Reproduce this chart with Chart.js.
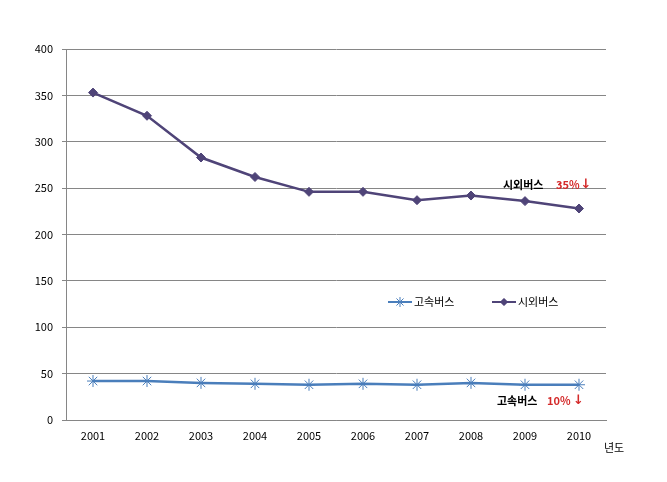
<!DOCTYPE html>
<html><head><meta charset="utf-8">
<script src="https://cdn.jsdelivr.net/npm/chart.js@4/dist/chart.umd.min.js"></script>
<style>html,body{margin:0;padding:0;background:#fff}#wrap{width:667px;height:482px}</style>
</head><body><div id="wrap"><canvas id="c" width="667" height="482"></canvas></div>
<script>
const years = ['2001','2002','2003','2004','2005','2006','2007','2008','2009','2010'];
const expressBus = [42,42,40,39,38,39,38,40,38,38];
const intercityBus = [353,328,283,262,246,246,237,242,236,228];
const yTicks = [0,50,100,150,200,250,300,350,400];
const seriesNames = ['고속버스','시외버스'];
const FONT = '"Noto Sans CJK KR", "Liberation Sans", sans-serif';

const overlay = {
  id:'overlay',
  afterDraw(chart){
    const ctx = chart.ctx;
    ctx.save();
    // legend
    const ly = 302;
    const items = [
      {x:388, name:seriesNames[0], color:'#4A7EBB', style:'star'},
      {x:492, name:seriesNames[1], color:'#4F4478', style:'rectRot'}
    ];
    ctx.font = '11px ' + FONT;
    ctx.textBaseline = 'middle';
    items.forEach(it=>{
      ctx.strokeStyle = it.color; ctx.fillStyle = it.color; ctx.lineWidth = 2;
      ctx.beginPath(); ctx.moveTo(it.x, ly); ctx.lineTo(it.x+24, ly); ctx.stroke();
      ctx.lineWidth = 1;
      Chart.helpers.drawPoint(ctx, {pointStyle:it.style, radius: it.style==='star'?5:3.5, borderWidth:1}, it.x+12, ly);
      if (it.style==='rectRot'){ ctx.fill(); }
      ctx.fillStyle = '#000';
      ctx.textAlign = 'left';
      ctx.fillText(it.name, it.x+26, ly);
    });
    // annotations
    const arrowFont = 'bold 13px "DejaVu Sans", sans-serif';
    const txtFont = 'bold 11px ' + FONT;
    function note(label, pct, x, pctX, arrowX, y){
      ctx.font = txtFont;
      ctx.fillStyle = '#000';
      ctx.fillText(label, x, y);
      ctx.fillStyle = '#D42A2A';
      ctx.fillText(pct, pctX, y);
      const end = pctX + ctx.measureText(pct).width + 1;
      ctx.font = arrowFont;
      ctx.fillText('↓', Math.max(arrowX, end), y);
    }
    note('시외버스', '35%', 503, 556, 577, 185);
    note('고속버스', '10%', 497, 547, 573, 401);
    ctx.fillStyle = '#000';
    ctx.font = '11px ' + FONT;
    ctx.fillText('년도', 604, 448);
    ctx.restore();
  }
};

new Chart(document.getElementById('c'), {
  type:'line',
  data:{
    labels: years,
    datasets:[
      {label:seriesNames[0], data:expressBus, borderColor:'#4A7EBB', backgroundColor:'#4A7EBB', borderWidth:2.5,
       pointStyle:'star', pointRadius:6, pointBorderWidth:1, pointBorderColor:'#4A7EBB', tension:0},
      {label:seriesNames[1], data:intercityBus, borderColor:'#4F4478', backgroundColor:'#4F4478', borderWidth:2.5,
       pointStyle:'rectRot', pointRadius:4.5, pointBorderWidth:1, pointBorderColor:'#4F4478', tension:0}
    ]
  },
  options:{
    responsive:false, animation:false, devicePixelRatio:1,
    layout:{padding:{left:0, right:61, top:49, bottom:0}},
    plugins:{legend:{display:false}, tooltip:{enabled:false}},
    scales:{
      x:{
        offset:true,
        grid:{display:false, drawTicks:false},
        border:{color:'#868686', width:1},
        ticks:{color:'#000', font:{size:11, family:FONT}, padding:9, maxRotation:0},
        afterFit(s){ s.height = 62; }
      },
      y:{
        min:0, max:400,
        afterBuildTicks(s){ s.ticks = yTicks.map(v=>({value:v})); },
        grid:{color:'#868686', lineWidth:1, tickLength:4, drawTicks:true},
        border:{color:'#868686', width:1},
        ticks:{color:'#000', font:{size:11, family:FONT}, padding:9},
        afterFit(s){ s.width = 66; }
      }
    }
  },
  plugins:[overlay]
});
</script></body></html>
